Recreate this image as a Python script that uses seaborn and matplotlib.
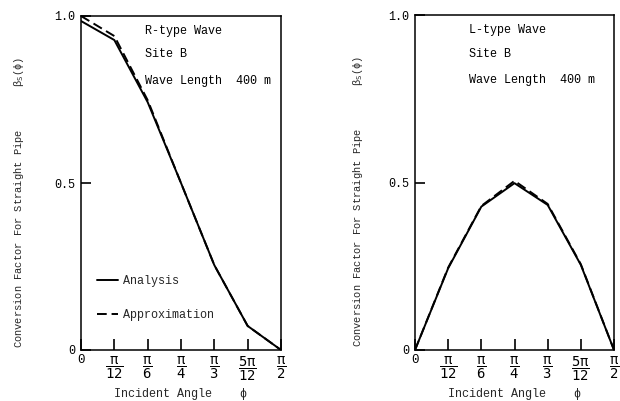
import numpy as np
import pandas as pd
import matplotlib
matplotlib.use("Agg")
import matplotlib.pyplot as plt
import matplotlib.transforms as mtransforms
import seaborn as sns
from matplotlib.lines import Line2D

# ---- data ----
angle_labels = ["0", r"$\dfrac{\pi}{12}$", r"$\dfrac{\pi}{6}$", r"$\dfrac{\pi}{4}$",
                r"$\dfrac{\pi}{3}$", r"$\dfrac{5\pi}{12}$", r"$\dfrac{\pi}{2}$"]
angles = [0, np.pi / 12, np.pi / 6, np.pi / 4, np.pi / 3, 5 * np.pi / 12, np.pi / 2]

r_analysis = [0.985, 0.928, 0.742, 0.500, 0.254, 0.072, 0.0]
r_approx = [1.0, 0.940, 0.748, 0.500, 0.254, 0.072, 0.0]
l_analysis = [0.0, 0.244, 0.428, 0.498, 0.433, 0.254, 0.0]
l_approx = [0.0, 0.246, 0.430, 0.505, 0.436, 0.256, 0.0]

series_names = ["Analysis", "Approximation"]
titles_r = ["R-type Wave", "Site B", "Wave Length  400 m"]
titles_l = ["L-type Wave", "Site B", "Wave Length  400 m"]

sns.set_theme(style="white")
plt.rcParams["font.family"] = ["Liberation Mono", "DejaVu Sans Mono"]
plt.rcParams["mathtext.fontset"] = "custom"
plt.rcParams["mathtext.rm"] = "DejaVu Sans Mono"
plt.rcParams["mathtext.it"] = "DejaVu Sans Mono"
plt.rcParams["mathtext.bf"] = "DejaVu Sans Mono"

fig = plt.figure(figsize=(6.2, 4.01), dpi=100)
ax1 = fig.add_axes([81 / 620, 51 / 401, 200 / 620, 334 / 401])
ax2 = fig.add_axes([415 / 620, 51 / 401, 199 / 620, 335 / 401])


def make_df(a, b):
    return pd.DataFrame({
        "angle": angles * 2,
        "value": list(a) + list(b),
        "kind": [series_names[0]] * len(a) + [series_names[1]] * len(b),
    })


dash_map = {"Analysis": "", "Approximation": (5, 2.5)}
for ax, (a, b), texts, tx, lx in [(ax1, (r_analysis, r_approx), titles_r, 0.32, -0.275),
                                  (ax2, (l_analysis, l_approx), titles_l, 0.27, -0.25)]:
    df = make_df(a, b)
    sns.lineplot(data=df, x="angle", y="value", style="kind", dashes=dash_map,
                 color="black", linewidth=1.4, ax=ax, legend=False)
    ax.set_xlim(0, np.pi / 2)
    ax.set_ylim(0, 1.0)
    ax.set_xticks(angles)
    ax.set_xticklabels(angle_labels, fontsize=10)
    zero_lbl = ax.get_xticklabels()[0]
    zero_lbl.set_fontsize(9)
    zero_lbl.set_transform(zero_lbl.get_transform() +
                           mtransforms.ScaledTranslation(3 / 72, -3 / 72,
                                                         fig.dpi_scale_trans))
    ax.set_yticks([0, 0.5, 1.0])
    ax.set_yticklabels(["0", "0.5", "1.0"], fontsize=8.5)
    ax.tick_params(axis="x", bottom=True, direction="in", length=8, width=1.2,
                   pad=3, colors="black")
    ax.tick_params(axis="y", left=True, direction="in", length=7, width=1.2,
                   pad=4, colors="black")
    for s in ax.spines.values():
        s.set_visible(True)
        s.set_color("black")
        s.set_linewidth(1.1)
    ax.set_xlabel("Incident Angle    \u03d5", fontsize=8.5, labelpad=4)
    ax.set_ylabel("Conversion Factor For Straight Pipe       \u03b2$_S$(\u03d5)",
                  fontsize=7.5)
    ax.yaxis.set_label_coords(lx, 0.443)
    ys = [0.955, 0.885, 0.805]
    for t, y in zip(texts, ys):
        ax.text(tx, y, t, transform=ax.transAxes, fontsize=8.5, va="center",
                ha="left", color="black")

handles = [Line2D([], [], color="black", lw=1.4),
           Line2D([], [], color="black", lw=1.4, dashes=(5, 2.5))]
ax1.legend(handles, series_names, loc="center left", bbox_to_anchor=(0.08, 0.156),
           frameon=False, fontsize=8.5, handlelength=1.8, handletextpad=0.4,
           labelspacing=1.9, borderpad=0, borderaxespad=0)

fig.savefig("out.png", dpi=100, facecolor="white")
